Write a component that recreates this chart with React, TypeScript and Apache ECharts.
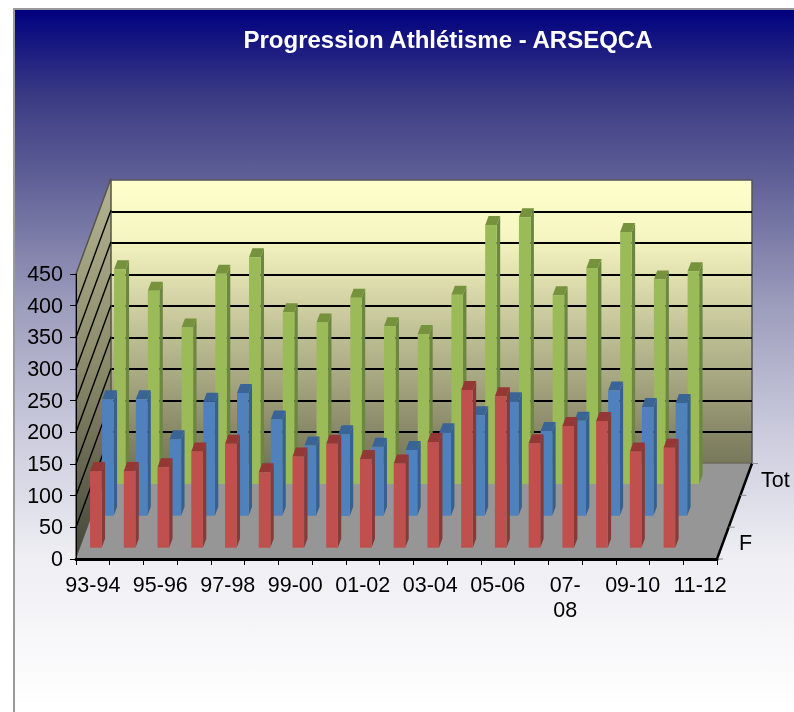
import React, { useEffect, useRef } from "react";
import * as echarts from "echarts";

const FONT = '"Liberation Sans", Arial, sans-serif';

const titleText = "Progression Athlétisme - ARSEQCA";
const seasons = [
  "93-94", "94-95", "95-96", "96-97", "97-98", "98-99", "99-00", "00-01", "01-02", "02-03",
  "03-04", "04-05", "05-06", "06-07", "07-08", "08-09", "09-10", "10-11", "11-12",
];
const valueTicks = [0, 50, 100, 150, 200, 250, 300, 350, 400, 450];
const depthLabels = ["F", "Tot"];

const valuesF = [121, 121, 127, 152, 164, 119, 144, 164, 140, 133, 167, 249, 239, 165, 192, 200, 152, 158];
const valuesH = [184, 184, 121, 180, 194, 152, 111, 129, 109, 104, 132, 159, 181, 134, 150, 198, 172, 178];
const valuesTot = [339, 305, 247, 332, 358, 271, 255, 294, 249, 237, 299, 409, 421, 298, 341, 398, 323, 336];

// Projection of the depth axis, in pixels
const DEPTH_DX = 35;
const DEPTH_DY = 95.5;
const ROW_DX = 12;
const ROW_DY = 31.85;
const BAR_W = 11.6;
const BAR_DX = 3.4;
const BAR_DY = 9;
const BAR_SHIFT = 3;
const BASE_LIFT = 11.3;

function barSeries(name: string, values: number[], row: number, front: string, side: string, top: string) {
  return {
    type: "custom",
    name,
    silent: true,
    z: 5 + (2 - row),
    xAxisIndex: 0,
    yAxisIndex: 0,
    encode: { x: 0, y: 1 },
    data: values.map((v, i) => [i, v]),
    renderItem: (_p: any, api: any) => {
      const i = api.value(0);
      const v = api.value(1);
      const base = api.coord([i, 0]);
      const head = api.coord([i, v]);
      const lift = BASE_LIFT + ROW_DY * row;
      const x0 = base[0] + BAR_SHIFT - BAR_W / 2 + ROW_DX * row;
      const x1 = x0 + BAR_W;
      const yb = base[1] - lift;
      const yt = head[1] - lift;
      return {
        type: "group",
        children: [
          {
            type: "polygon",
            shape: { points: [[x1, yb], [x1 + BAR_DX, yb - BAR_DY], [x1 + BAR_DX, yt - BAR_DY], [x1, yt]] },
            style: { fill: side },
          },
          {
            type: "polygon",
            shape: { points: [[x0, yt], [x1, yt], [x1 + BAR_DX, yt - BAR_DY], [x0 + BAR_DX, yt - BAR_DY]] },
            style: { fill: top },
          },
          { type: "rect", shape: { x: x0, y: yt, width: BAR_W, height: yb - yt }, style: { fill: front } },
        ],
      };
    },
  };
}

const wallsSeries = {
  type: "custom",
  name: "walls",
  silent: true,
  z: 1,
  xAxisIndex: 0,
  yAxisIndex: 0,
  encode: { x: 0, y: 1 },
  data: [[0, 0]],
  renderItem: (params: any, api: any) => {
    const g = params.coordSys;
    const l = g.x;
    const r = g.x + g.width;
    const b = g.y + g.height;
    const t = g.y;
    const children: any[] = [
      {
        type: "polygon",
        shape: { points: [[l, b], [l + DEPTH_DX, b - DEPTH_DY], [l + DEPTH_DX, t - DEPTH_DY], [l, t]] },
        style: {
          fill: new echarts.graphic.LinearGradient(0, 0, 0, 1, [
            { offset: 0, color: "#b4b492" },
            { offset: 0.5, color: "#8a8a6a" },
            { offset: 1, color: "#45453a" },
          ]),
          stroke: "#55554a",
          lineWidth: 1.5,
        },
      },
      {
        type: "polygon",
        shape: { points: [[l, b], [r, b], [r + DEPTH_DX, b - DEPTH_DY], [l + DEPTH_DX, b - DEPTH_DY]] },
        style: { fill: "#969696" },
      },
      {
        type: "line",
        shape: { x1: r, y1: b, x2: r + DEPTH_DX, y2: b - DEPTH_DY },
        style: { stroke: "#000", lineWidth: 2.5 },
      },
    ];
    valueTicks.slice(1, -1).forEach((tick) => {
      const y = api.coord([0, tick])[1];
      children.push({
        type: "line",
        shape: { x1: l, y1: y, x2: l + DEPTH_DX, y2: y - DEPTH_DY },
        style: { stroke: "#000", lineWidth: 1.4 },
      });
    });
    [0, 1, 2, 3].forEach((k) => {
      const x = r + (DEPTH_DX * k) / 3;
      const y = b - (DEPTH_DY * k) / 3;
      children.push({
        type: "line",
        shape: { x1: x, y1: y, x2: x + 6, y2: y },
        style: { stroke: "#8c8c8c", lineWidth: 1 },
      });
    });
    return { type: "group", children };
  },
};

const option: any = {
  animation: false,
  title: {
    text: titleText,
    left: 443,
    top: 22,
    textAlign: "center",
    textStyle: { color: "#fff", fontFamily: FONT, fontWeight: "bold", fontSize: 24 },
  },
  graphic: [
    {
      type: "rect",
      z: -10,
      silent: true,
      shape: { x: 14, y: 9, width: 800, height: 720 },
      style: {
        stroke: "#9a9a9a",
        lineWidth: 2,
        fill: new echarts.graphic.LinearGradient(0, 0, 0, 1, [
          { offset: 0, color: "#000080" },
          { offset: 0.12, color: "#3a3a84" },
          { offset: 0.23, color: "#5e5e96" },
          { offset: 0.41, color: "#9c9cbc" },
          { offset: 0.58, color: "#c9c9dc" },
          { offset: 0.76, color: "#eeeef3" },
          { offset: 0.97, color: "#ffffff" },
          { offset: 1, color: "#ffffff" },
        ]),
      },
    },
    {
      type: "text",
      x: 739,
      y: 543,
      silent: true,
      style: { text: depthLabels[0], fontFamily: FONT, fontSize: 21.5, fill: "#000", verticalAlign: "middle" },
    },
    {
      type: "text",
      x: 761,
      y: 480,
      silent: true,
      style: { text: depthLabels[1], fontFamily: FONT, fontSize: 21.5, fill: "#000", verticalAlign: "middle" },
    },
  ],
  grid: [
    { left: 76, top: 274, width: 641, height: 285 },
    {
      left: 110,
      top: 180,
      width: 642,
      height: 283.5,
      show: true,
      borderColor: "#555",
      borderWidth: 1.5,
      backgroundColor: new echarts.graphic.LinearGradient(0, 0, 0, 1, [
        { offset: 0, color: "#ffffcc" },
        { offset: 0.2, color: "#f6f6c2" },
        { offset: 1, color: "#77775a" },
      ]),
    },
  ],
  xAxis: [
    {
      type: "category",
      gridIndex: 0,
      data: seasons,
      z: 10,
      axisLine: { show: true, lineStyle: { color: "#000", width: 3 } },
      axisTick: { show: true, interval: 0, length: 6, lineStyle: { color: "#000", width: 1 } },
      axisLabel: {
        interval: 1,
        margin: 13,
        color: "#000",
        fontFamily: FONT,
        fontSize: 21.5,
        lineHeight: 25,
        formatter: (s: string) => (s === "07-08" ? "07-\n08" : s),
      },
    },
    { type: "category", gridIndex: 1, data: seasons, show: false },
  ],
  yAxis: [
    {
      type: "value",
      gridIndex: 0,
      min: 0,
      max: 450,
      interval: 50,
      z: 10,
      axisLine: { show: true, lineStyle: { color: "#000", width: 1 } },
      axisTick: { show: true, length: 6, lineStyle: { color: "#000", width: 1 } },
      axisLabel: { margin: 13, color: "#000", fontFamily: FONT, fontSize: 21.5, padding: [4, 0, 0, 0] },
      splitLine: { show: false },
    },
    {
      type: "value",
      gridIndex: 1,
      min: 0,
      max: 450,
      interval: 50,
      axisLine: { show: false },
      axisTick: { show: false },
      axisLabel: { show: false },
      splitLine: { show: true, showMinLine: false, showMaxLine: false, lineStyle: { color: "#000", width: 2 } },
    },
  ],
  series: [
    wallsSeries,
    barSeries("Tot", valuesTot, 2, "#9bbb59", "#6c8740", "#76923c"),
    barSeries("H", valuesH, 1, "#4f81bd", "#36608f", "#3a6496"),
    barSeries("F", valuesF, 0, "#c0504d", "#843c39", "#953735"),
  ],
};

export default function App() {
  const ref = useRef<HTMLDivElement>(null);
  useEffect(() => {
    const chart = echarts.init(ref.current!, undefined, { renderer: "svg" });
    chart.setOption(option);
    return () => chart.dispose();
  }, []);
  return <div ref={ref} style={{ position: "fixed", left: 0, top: 0, width: 794, height: 712, overflow: "hidden" }} />;
}
